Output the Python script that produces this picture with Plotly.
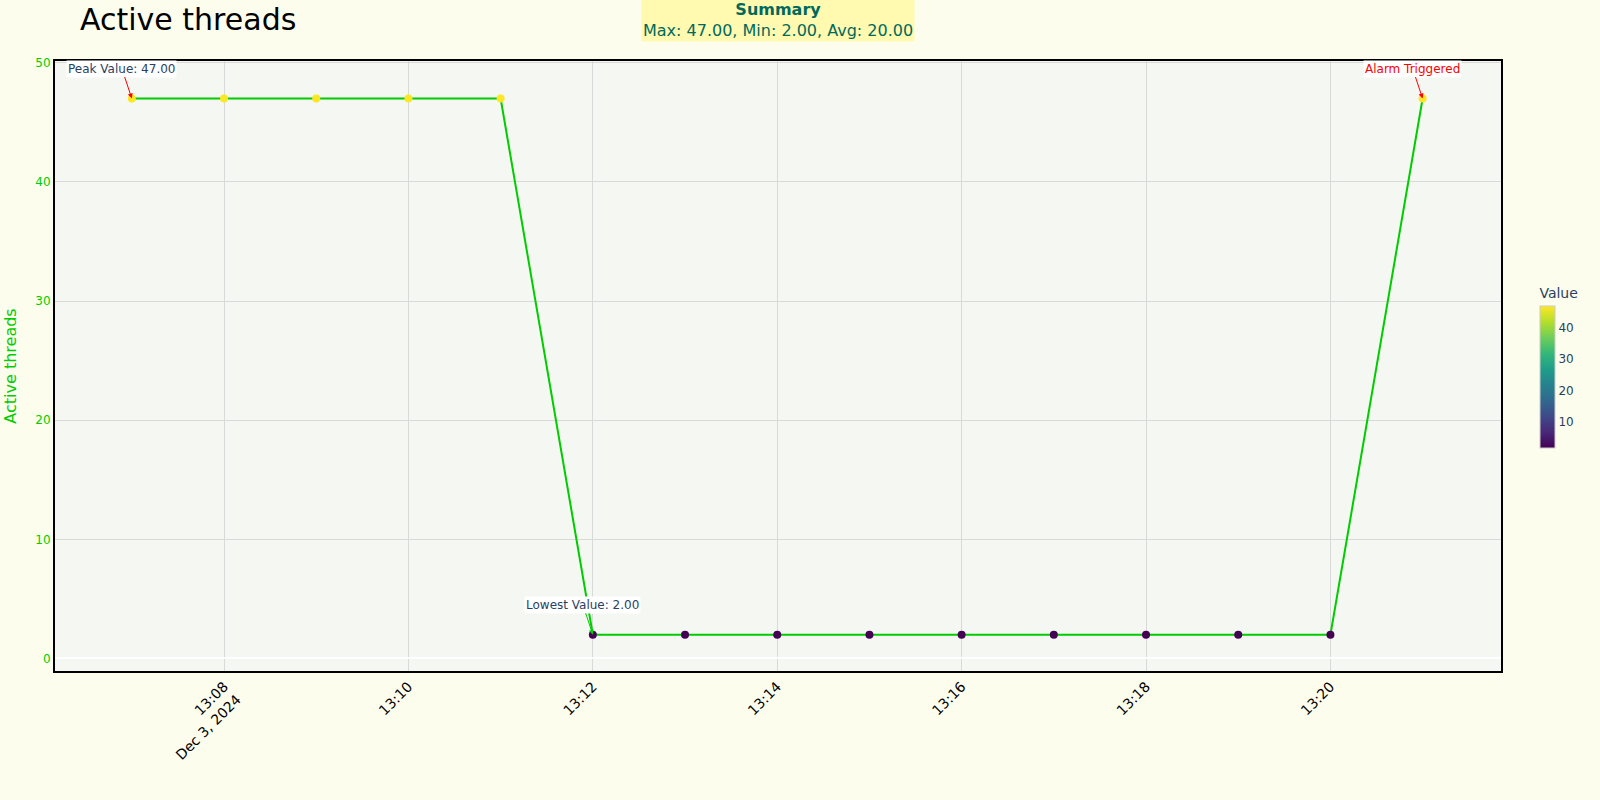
import plotly.graph_objects as go
import pandas as pd

times = ["2024-12-03 13:07", "2024-12-03 13:08", "2024-12-03 13:09", "2024-12-03 13:10",
         "2024-12-03 13:11", "2024-12-03 13:12", "2024-12-03 13:13", "2024-12-03 13:14",
         "2024-12-03 13:15", "2024-12-03 13:16", "2024-12-03 13:17", "2024-12-03 13:18",
         "2024-12-03 13:19", "2024-12-03 13:20", "2024-12-03 13:21"]
values = [47, 47, 47, 47, 47, 2, 2, 2, 2, 2, 2, 2, 2, 2, 47]

x = pd.to_datetime(times)
vmax, vmin = max(values), min(values)
vavg = sum(values) / len(values)
imax = values.index(vmax)
imin = values.index(vmin)

PAPER = "#fdfdee"

fig = go.Figure()
fig.add_trace(go.Scatter(
    x=x, y=values, mode="lines+markers",
    line=dict(color="#00cc00", width=2),
    marker=dict(size=8, color=values, colorscale="Viridis", cmin=vmin, cmax=vmax,
                line=dict(width=0),
                colorbar=dict(title=dict(text="Value", font=dict(size=14)), thickness=15,
                              len=0.3, x=1.02, y=0.5, outlinewidth=1,
                              outlinecolor="#cccccc",
                              tickfont=dict(size=12))),
    showlegend=False,
))

fig.add_annotation(x=x[imax], y=vmax, text=f"Peak Value: {vmax:.2f}",
                   showarrow=True, arrowhead=2, arrowsize=1, arrowwidth=1, arrowcolor="red",
                   ax=-10, ay=-30, bgcolor="white", font=dict(size=12, color="#2a3f5f"))
fig.add_annotation(x=x[imin], y=vmin, text=f"Lowest Value: {vmin:.2f}",
                   showarrow=True, arrowhead=2, arrowsize=1, arrowwidth=1, arrowcolor="#00cc00",
                   ax=-10, ay=-30, bgcolor="white", font=dict(size=12, color="#2a3f5f"))
fig.add_annotation(x=x[-1], y=values[-1], text="Alarm Triggered",
                   showarrow=True, arrowhead=2, arrowsize=1, arrowwidth=1, arrowcolor="red",
                   ax=-10, ay=-30, bgcolor="white", font=dict(size=12, color="red"))
fig.add_annotation(xref="paper", yref="paper", x=0.5, y=1.0, yanchor="bottom", yshift=19,
                   text=f"<b>Summary</b><br>Max: {vmax:.2f}, Min: {vmin:.2f}, Avg: {vavg:.2f}",
                   showarrow=False, bgcolor="#fffab0", font=dict(size=16, color="#00695c"))

fig.update_layout(
    width=1600, height=800,
    title=dict(text="Active threads", x=0.05, xanchor="left", y=0.976, yanchor="middle",
               font=dict(size=30, color="black")),
    paper_bgcolor=PAPER,
    plot_bgcolor="#f5f7f2",
    margin=dict(l=55, r=99, t=61, b=129, autoexpand=False),
    font=dict(family="DejaVu Sans"),
)
fig.update_xaxes(
    range=["2024-12-03 13:06:10", "2024-12-03 13:21:51"],
    dtick=120000, tickangle=-45, tickfont=dict(size=14, color="black"),
    showgrid=True, gridcolor="#d9d9d9",
    showline=True, mirror=True, linecolor="black", linewidth=2,
)
fig.update_yaxes(
    range=[-1.05, 50.15], dtick=10, automargin=False,
    title=dict(text="Active threads", font=dict(size=16, color="#00cc00")),
    tickfont=dict(size=12, color="#00cc00"),
    showgrid=True, gridcolor="#d9d9d9",
    zeroline=True, zerolinecolor="white", zerolinewidth=2,
    showline=True, mirror=True, linecolor="black", linewidth=2,
)

fig.write_html(
    "out.html",
    config={"displayModeBar": False},
    post_script=f"document.body.style.margin='0';document.body.style.background='{PAPER}';",
)
